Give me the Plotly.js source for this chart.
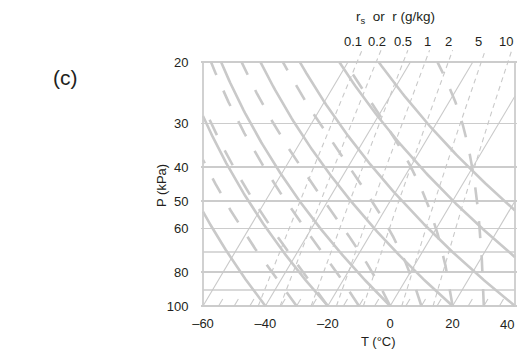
<!DOCTYPE html>
<html><head><meta charset="utf-8">
<script src="https://cdn.plot.ly/plotly-3.0.1.min.js"></script>
<style>html,body{margin:0;padding:0;background:#fff;}</style>
</head><body><div id="chart" style="width:517px;height:352px;"></div>
<script>
// ---- diagram values ----
const isothermsC   = [-60, -40, -20, 0, 20, 40];                 // °C, full isotherms
const tickMarksC   = [-55,-50,-45,-35,-30,-25,-15,-10,-5,5,10,15,25,30,35]; // short isotherm ticks
const dryThetaC    = [-40, -20, 0, 20, 40, 60, 80];               // dry adiabats, θ (°C)
const moistThetaWC = [-30, -20, -10, 0, 10, 20, 30];              // moist adiabats, θw (°C)
const mixingRatios = [0.1, 0.2, 0.5, 1, 2, 5, 10];                // g/kg
const mixingLabels = ['0.1', '0.2', '0.5', '1', '2', '5', '10'];
const xTickVals = [-60, -40, -20, 0, 20, 40];
const xTickText = ['\u201360', '\u201340', '\u201320', '0', '20', '40'];
const pTickVals = [20, 30, 40, 50, 60, 80, 100];                  // labelled isobars
const pTickText = ['20', '30', '40', '50', '60', '80', '100'];
const pExtraIsobars = [70, 90];                                   // unlabelled isobars

// ---- skew-T geometry ----
const SKEW = 66.5;         // °C of skew per decade of pressure
const TMIN = -60, TMAX = 40, PBOT = 100, PTOP = 20, PMR_TOP = 18.5;
const K0 = 273.15;
function X(T, P) { return T + SKEW * Math.log10(100 / P); }

// clip polyline (in X, log P space) to the box
function clip(pts, xmin, xmax, pmin, pmax) {
  const xs = [], ys = [];
  const lmin = Math.log10(pmin), lmax = Math.log10(pmax);
  let lastEnd = null;
  for (let i = 0; i < pts.length - 1; i++) {
    let x0 = pts[i][0], y0 = Math.log10(pts[i][1]);
    let x1 = pts[i+1][0], y1 = Math.log10(pts[i+1][1]);
    let t0 = 0, t1 = 1; const dx = x1 - x0, dy = y1 - y0;
    const p = [-dx, dx, -dy, dy], q = [x0 - xmin, xmax - x0, y0 - lmin, lmax - y0];
    let ok = true;
    for (let k = 0; k < 4; k++) {
      if (p[k] === 0) { if (q[k] < 0) { ok = false; break; } }
      else { const r = q[k] / p[k];
        if (p[k] < 0) { if (r > t1) { ok = false; break; } if (r > t0) t0 = r; }
        else { if (r < t0) { ok = false; break; } if (r < t1) t1 = r; } }
    }
    if (!ok) { lastEnd = null; continue; }
    const ax = x0 + t0*dx, ay = y0 + t0*dy, bx = x0 + t1*dx, by = y0 + t1*dy;
    if (lastEnd === null) { if (xs.length) { xs.push(null); ys.push(null); } xs.push(ax); ys.push(Math.pow(10, ay)); }
    xs.push(bx); ys.push(Math.pow(10, by));
    lastEnd = t1 < 1 ? null : [bx, by];
  }
  return {x: xs, y: ys};
}
function pressures(pStart, pEnd, n) {
  const a = []; for (let i = 0; i <= n; i++) a.push(pStart + (pEnd - pStart) * i / n); return a;
}

// saturation vapour pressure (kPa), Clausius-Clapeyron
function es(Tk) { return 0.6113 * Math.exp(5423 * (1/K0 - 1/Tk)); }
function dewFromE(e) { return 1 / (1/K0 - Math.log(e/0.6113)/5423) - K0; }
function moistRate(Tk, P) {
  const Rd = 287.04, Cp = 1005.7, L = 2.501e6, eps = 0.622;
  const e = es(Tk), rs = eps * e / (P - e);
  return (Rd*Tk + L*rs) / (P * (Cp + L*L*rs*eps/(Rd*Tk*Tk)));
}

const traces = [];
const grey = '#c9c9c9';
function add(c, width, dash, color) {
  traces.push({type:'scatter', mode:'lines', x:c.x, y:c.y, hoverinfo:'skip', showlegend:false,
    line:{color: color || grey, width: width, dash: dash || 'solid'}});
}

// unlabelled isobars (same style as grid)
pExtraIsobars.forEach(P => add({x:[TMIN, TMAX], y:[P, P]}, 1.5, 'solid', '#cccccc'));
// isotherms
isothermsC.forEach(T => {
  const pts = [[X(T, PBOT), PBOT], [X(T, PTOP), PTOP]];
  add(clip(pts, TMIN, TMAX, PTOP, PBOT), 1.1);
});
// short isotherm ticks near the bottom
tickMarksC.forEach(T => {
  const pts = [[X(T, PBOT), PBOT], [X(T, 95.5), 95.5]];
  add(clip(pts, TMIN, TMAX, PTOP, PBOT), 1.1);
});
// mixing ratio lines
mixingRatios.forEach(r => {
  const pts = pressures(PBOT, PMR_TOP, 80).map(P => {
    const w = r / 1000, e = w * P / (0.622 + w);
    return [X(dewFromE(e), P), P];
  });
  add(clip(pts, TMIN, TMAX, PMR_TOP, PBOT), 1.1, '5px,4px');
});
// dry adiabats
dryThetaC.forEach(th => {
  const pts = pressures(PBOT, PTOP, 160).map(P => [X((th + K0) * Math.pow(P/100, 0.2857) - K0, P), P]);
  add(clip(pts, TMIN, TMAX, PTOP, PBOT), 2.6);
});
// moist adiabats (pseudo-adiabatic, RK4)
moistThetaWC.forEach(tw => {
  let T = tw + K0, P = PBOT; const h = -0.25; const pts = [[X(T - K0, P), P]];
  while (P > PTOP + 1e-9) {
    const k1 = moistRate(T, P), k2 = moistRate(T + h*k1/2, P + h/2),
          k3 = moistRate(T + h*k2/2, P + h/2), k4 = moistRate(T + h*k3, P + h);
    T += h * (k1 + 2*k2 + 2*k3 + k4) / 6; P += h;
    pts.push([X(T - K0, P), P]);
  }
  add(clip(pts, TMIN, TMAX, PTOP, PBOT), 2.6, '17px,17px');
});
// frame
add({x:[TMIN, TMIN], y:[PBOT, PTOP]}, 1.8, 'solid', '#cccccc');
add({x:[TMAX, TMAX], y:[PBOT, PTOP]}, 1.8, 'solid', '#cccccc');

// ---- layout ----
const L = 201, R = 0, T_ = 48, B = 44, W = 517, H = 352;
const pw = W - L - R, ph = H - T_ - B;
const pxX = 312 / 100;                 // px per °C
const xr = [TMIN - 2/pxX, TMAX + (W - R - 515)/pxX];
const pxDec = 349;                     // px per decade
const yr = [2 + 2/pxDec, 2 - (306 - T_)/pxDec];
function px2paperX(px) { return (px - L) / pw; }
function py2paperY(py) { return (H - B - py) / ph; }

const font = {family: 'Liberation Sans, Arial, sans-serif', size: 13, color: '#231f20'};
function ann(text, px, py, extra) {
  return Object.assign({text: text, x: px2paperX(px), y: py2paperY(py), xref:'paper', yref:'paper',
    xanchor:'center', yanchor:'middle', showarrow:false, font: font}, extra || {});
}
const annotations = [
  ann('(c)', 65, 77, {font:{family:font.family, size:21, color:'#231f20'}}),
  ann('T (°C)', 378, 341),
  ann('P (kPa)', 161, 186, {textangle:-90}),
  ann('r<sub>s</sub>\u00a0\u00a0or\u00a0\u00a0r (g/kg)', 395, 18, {font:{family:font.family, size:13.5, color:'#231f20'}}),
  // last T label sits inside the edge of the picture
  ann(xTickText[xTickText.length - 1], 507, 324)
];
const mixLabelPx = [353, 377, 403, 427, 448, 478, 506];
mixingLabels.forEach((lab, i) => annotations.push(ann(lab, mixLabelPx[i], 41)));

const layout = {
  width: W, height: H, margin: {l:L, r:R, t:T_, b:B, pad:0},
  paper_bgcolor:'#fff', plot_bgcolor:'#fff', showlegend:false,
  xaxis: {range: xr, tickvals: xTickVals.slice(0, -1), ticktext: xTickText.slice(0, -1), showgrid:false, zeroline:false, showline:false,
    ticks:'outside', ticklen:3, tickcolor:'rgba(0,0,0,0)', tickfont: font, fixedrange:true},
  yaxis: {type:'log', range: yr, tickvals: pTickVals, ticktext: pTickText, showgrid:true, gridcolor:'#cccccc', gridwidth:1.5,
    zeroline:false, showline:false, ticks:'outside', ticklen:9, tickcolor:'rgba(0,0,0,0)', tickfont: font, fixedrange:true},
  annotations: annotations
};
Plotly.newPlot('chart', traces, layout, {staticPlot:true, displayModeBar:false});
</script></body></html>
